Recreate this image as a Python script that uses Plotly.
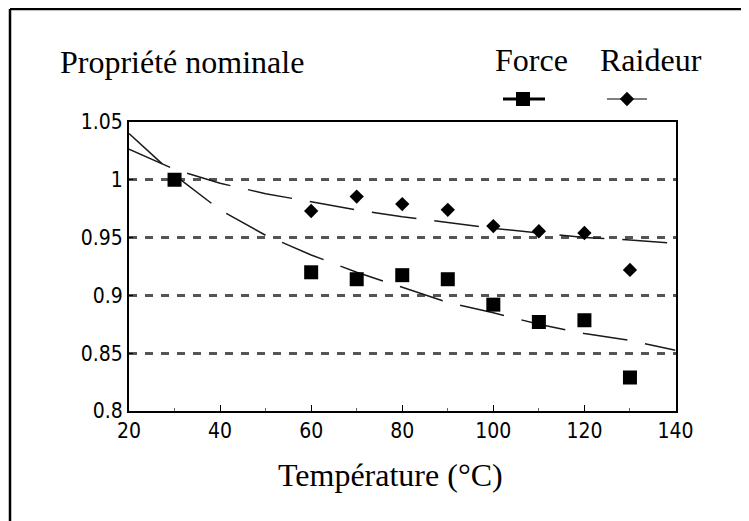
import plotly.graph_objects as go

# ---------------- data ----------------
temperature = [30, 60, 70, 80, 90, 100, 110, 120, 130]
force = [1.000, 0.920, 0.914, 0.9175, 0.914, 0.892, 0.877, 0.8785, 0.829]
raideur_temp = [60, 70, 80, 90, 100, 110, 120, 130]
raideur = [0.973, 0.9855, 0.979, 0.974, 0.960, 0.9555, 0.954, 0.922]

trend_temp = [20, 30, 40, 50, 60, 70, 80, 90, 100, 110, 120, 130, 140]
force_trend = [1.040, 1.004, 0.974, 0.952, 0.935, 0.920, 0.907, 0.894, 0.885, 0.875, 0.867, 0.861, 0.8525]
raideur_trend = [1.0265, 1.009, 0.997, 0.988, 0.981, 0.974, 0.968, 0.963, 0.958, 0.954, 0.950, 0.948, 0.945]

x_ticks = [20, 40, 60, 80, 100, 120, 140]
y_ticks = [0.8, 0.85, 0.9, 0.95, 1.0, 1.05]
y_tick_labels = ["0.8", "0.85", "0.9", "0.95", "1", "1.05"]

title_text = "Propriété nominale"
x_title = "Température (°C)"
series_names = ["Force", "Raideur"]

# ---------------- layout helpers ----------------
OFF = 8                      # page body margin
W, H = 749 - OFF, 521 - OFF  # figure size
def px(x):
    return (x - OFF) / W
def py(y):
    return 1 - (y - OFF) / H

SERIF = "Liberation Serif, Times New Roman, serif"
NARROW = "Liberation Sans Narrow, Arial Narrow, DejaVu Sans Condensed, sans-serif"

fig = go.Figure()

trend_dash = "45px,18px"
fig.add_trace(go.Scatter(x=trend_temp, y=force_trend, mode="lines",
                         line=dict(color="#1a1a1a", width=1.5, dash=trend_dash),
                         showlegend=False, hoverinfo="skip"))
fig.add_trace(go.Scatter(x=trend_temp, y=raideur_trend, mode="lines",
                         line=dict(color="#1a1a1a", width=1.5, dash=trend_dash),
                         showlegend=False, hoverinfo="skip"))
fig.add_trace(go.Scatter(x=temperature, y=force, mode="markers", name=series_names[0],
                         marker=dict(symbol="square", size=14, color="black"),
                         showlegend=False))
fig.add_trace(go.Scatter(x=raideur_temp, y=raideur, mode="markers", name=series_names[1],
                         marker=dict(symbol="diamond", size=11, color="black"),
                         showlegend=False))

# legend glyphs drawn on a full-figure overlay axis (pixel units of the reference)
fig.add_trace(go.Scatter(x=[503, 523, 545], y=[99, 99, 99], xaxis="x2", yaxis="y2",
                         mode="lines", line=dict(color="black", width=3),
                         showlegend=False, hoverinfo="skip"))
fig.add_trace(go.Scatter(x=[523], y=[99], xaxis="x2", yaxis="y2", mode="markers",
                         marker=dict(symbol="square", size=14, color="black"),
                         showlegend=False, hoverinfo="skip"))
fig.add_trace(go.Scatter(x=[607, 627, 647], y=[99, 99, 99], xaxis="x2", yaxis="y2",
                         mode="lines", line=dict(color="#555", width=1.5),
                         showlegend=False, hoverinfo="skip"))
fig.add_trace(go.Scatter(x=[627], y=[99], xaxis="x2", yaxis="y2", mode="markers",
                         marker=dict(symbol="diamond", size=11, color="black"),
                         showlegend=False, hoverinfo="skip"))

fig.update_layout(
    width=W, height=H,
    margin=dict(l=0, r=0, t=0, b=0),
    paper_bgcolor="white", plot_bgcolor="rgba(0,0,0,0)",
    showlegend=False,
    xaxis=dict(
        domain=[px(129), px(675.5)], range=[20, 140],
        tickvals=x_ticks, ticks="inside", ticklen=6, tickwidth=1, tickcolor="black",
        minor=dict(ticks="inside", ticklen=3, dtick=10, tickcolor="#666", tickwidth=1),
        showline=True, linecolor="black", linewidth=2, mirror=True,
        showgrid=False, zeroline=False,
        tickfont=dict(family=NARROW, size=21, color="black"),
        automargin=False, anchor="y",
    ),
    yaxis=dict(
        domain=[py(411), py(122)], range=[0.8, 1.05],
        tickvals=y_ticks, ticktext=y_tick_labels,
        ticks="inside", ticklen=4, tickwidth=1, tickcolor="black",
        showline=True, linecolor="black", linewidth=2, mirror=True,
        showgrid=True, gridcolor="#555", gridwidth=2.5, griddash="8px,8px",
        zeroline=False,
        tickfont=dict(family=NARROW, size=21, color="black"),
        automargin=False, anchor="x",
    ),
    xaxis2=dict(domain=[0, 1], range=[OFF, OFF + W], visible=False, anchor="y2"),
    yaxis2=dict(domain=[0, 1], range=[OFF + H, OFF], visible=False, anchor="x2"),
    annotations=[
        dict(text=title_text, xref="paper", yref="paper", x=px(58), y=py(62),
             xanchor="left", yanchor="middle", showarrow=False,
             font=dict(family=SERIF, size=32, color="black")),
        dict(text=series_names[0], xref="paper", yref="paper", x=px(493), y=py(60),
             xanchor="left", yanchor="middle", showarrow=False,
             font=dict(family=SERIF, size=32, color="black")),
        dict(text=series_names[1], xref="paper", yref="paper", x=px(598), y=py(60),
             xanchor="left", yanchor="middle", showarrow=False,
             font=dict(family=SERIF, size=32, color="black")),
        dict(text=x_title, xref="paper", yref="paper", x=px(390), y=py(475),
             xanchor="center", yanchor="middle", showarrow=False,
             font=dict(family=SERIF, size=32, color="black")),
    ],
    shapes=[
        dict(type="line", xref="paper", yref="paper", x0=px(10), x1=px(10), y0=0, y1=py(9),
             line=dict(color="black", width=2.5)),
        dict(type="line", xref="paper", yref="paper", x0=px(10), x1=px(748), y0=py(9), y1=py(9),
             line=dict(color="black", width=2.5)),
        dict(type="line", xref="paper", yref="paper", x0=px(747.5), x1=px(747.5), y0=0, y1=py(9),
             line=dict(color="black", width=2)),
    ],
)

fig.write_html("out.html")
